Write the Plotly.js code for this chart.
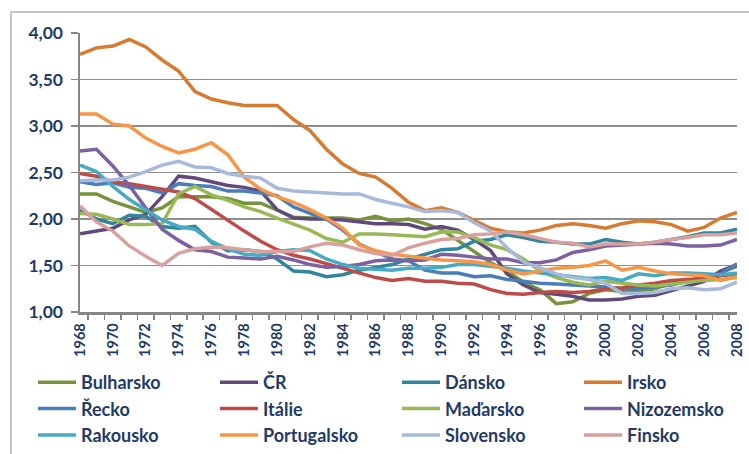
<!DOCTYPE html>
<html>
<head>
<meta charset="utf-8">
<script src="https://cdn.plot.ly/plotly-3.0.1.min.js"></script>
<style>
  html, body { margin: 0; padding: 0; background: #ffffff; }
  #frame { position: absolute; left: 10px; top: 11px; width: 800px; height: 500px; border: 2px solid #c6c6c6; }
  #chart { position: absolute; left: 0; top: 0; width: 749px; height: 454px; }
</style>
</head>
<body>
<div id="frame"></div>
<div id="chart"></div>
<script>
const years = ["1968","1969","1970","1971","1972","1973","1974","1975","1976","1977","1978","1979","1980","1981","1982","1983","1984","1985","1986","1987","1988","1989","1990","1991","1992","1993","1994","1995","1996","1997","1998","1999","2000","2001","2002","2003","2004","2005","2006","2007","2008"];

const bulharsko = [2.27,2.27,2.19,2.13,2.07,2.12,2.24,2.24,2.24,2.22,2.17,2.17,2.10,2.02,2.01,2.01,2.01,1.99,2.03,1.98,2.00,1.95,1.89,1.77,1.65,1.53,1.44,1.32,1.24,1.09,1.11,1.20,1.24,1.22,1.22,1.25,1.31,1.34,1.36,1.42,1.49];
const cr = [1.84,1.87,1.90,1.99,2.05,2.24,2.46,2.44,2.40,2.36,2.34,2.30,2.10,2.01,2.00,2.00,1.99,1.97,1.95,1.95,1.94,1.89,1.92,1.88,1.78,1.66,1.41,1.29,1.21,1.19,1.17,1.13,1.13,1.14,1.17,1.18,1.23,1.28,1.33,1.44,1.51];
const dansko = [2.10,2.00,1.95,2.04,2.03,1.92,1.90,1.92,1.75,1.66,1.67,1.65,1.57,1.44,1.43,1.38,1.40,1.45,1.48,1.51,1.57,1.62,1.67,1.68,1.76,1.78,1.83,1.80,1.76,1.75,1.73,1.73,1.78,1.75,1.73,1.75,1.78,1.81,1.85,1.85,1.89];
const irsko = [3.77,3.84,3.86,3.93,3.85,3.71,3.59,3.37,3.29,3.25,3.22,3.22,3.22,3.07,2.95,2.75,2.59,2.49,2.45,2.33,2.18,2.09,2.12,2.07,1.99,1.90,1.86,1.85,1.88,1.93,1.95,1.93,1.90,1.95,1.98,1.97,1.94,1.87,1.91,2.01,2.07];
const recko = [2.40,2.37,2.39,2.34,2.33,2.28,2.38,2.36,2.35,2.30,2.30,2.28,2.25,2.13,2.06,2.00,1.88,1.73,1.65,1.57,1.55,1.45,1.42,1.42,1.38,1.39,1.35,1.33,1.31,1.30,1.29,1.28,1.27,1.25,1.25,1.27,1.29,1.33,1.38,1.41,1.52];
const italie = [2.49,2.46,2.40,2.38,2.35,2.32,2.29,2.22,2.10,1.98,1.87,1.76,1.67,1.61,1.57,1.52,1.47,1.42,1.37,1.34,1.36,1.33,1.33,1.31,1.30,1.24,1.20,1.19,1.21,1.22,1.21,1.22,1.25,1.26,1.29,1.31,1.34,1.35,1.36,1.39,1.41];
const madarsko = [2.06,2.05,2.00,1.94,1.94,1.95,2.27,2.35,2.26,2.20,2.13,2.08,2.01,1.94,1.88,1.79,1.75,1.84,1.84,1.83,1.82,1.81,1.86,1.86,1.80,1.72,1.67,1.57,1.44,1.37,1.32,1.29,1.33,1.31,1.29,1.28,1.30,1.32,1.34,1.35,1.37];
const nizozemsko = [2.73,2.75,2.57,2.36,2.12,1.89,1.77,1.67,1.65,1.59,1.58,1.57,1.60,1.56,1.51,1.48,1.49,1.51,1.55,1.56,1.55,1.56,1.62,1.61,1.59,1.57,1.57,1.53,1.53,1.56,1.64,1.67,1.71,1.72,1.73,1.74,1.73,1.71,1.71,1.72,1.78];
const rakousko = [2.58,2.51,2.35,2.21,2.10,1.99,1.92,1.89,1.76,1.68,1.62,1.61,1.65,1.67,1.66,1.57,1.51,1.47,1.46,1.45,1.47,1.47,1.48,1.51,1.51,1.49,1.47,1.44,1.42,1.40,1.38,1.36,1.37,1.34,1.41,1.39,1.42,1.42,1.41,1.40,1.42];
const portugalsko = [3.13,3.13,3.02,3.00,2.87,2.78,2.71,2.75,2.82,2.69,2.45,2.32,2.24,2.18,2.10,2.01,1.90,1.72,1.66,1.62,1.60,1.58,1.56,1.55,1.54,1.51,1.45,1.41,1.44,1.47,1.48,1.50,1.55,1.45,1.48,1.44,1.41,1.40,1.39,1.34,1.38];
const slovensko = [2.41,2.42,2.42,2.45,2.51,2.58,2.62,2.56,2.55,2.49,2.46,2.44,2.33,2.30,2.29,2.28,2.27,2.27,2.21,2.17,2.13,2.08,2.09,2.07,1.96,1.87,1.69,1.54,1.47,1.41,1.37,1.35,1.31,1.20,1.20,1.21,1.25,1.26,1.24,1.25,1.32];
const finsko = [2.14,1.97,1.87,1.71,1.60,1.50,1.63,1.68,1.70,1.69,1.67,1.65,1.65,1.65,1.70,1.74,1.72,1.67,1.63,1.61,1.69,1.74,1.78,1.79,1.83,1.84,1.86,1.83,1.79,1.75,1.74,1.70,1.73,1.73,1.73,1.75,1.78,1.80,1.83,1.83,1.85];

const seriesNames = ["Bulharsko","ČR","Dánsko","Irsko","Řecko","Itálie","Maďarsko","Nizozemsko","Rakousko","Portugalsko","Slovensko","Finsko"];
const seriesValues = [bulharsko, cr, dansko, irsko, recko, italie, madarsko, nizozemsko, rakousko, portugalsko, slovensko, finsko];
const seriesColors = ["#77933C","#604A7B","#31859C","#D77B32","#4A7EBB","#BE4B48","#98B954","#7D60A0","#46AAC5","#F79646","#A7BADB","#D9A09E"];
const tickText = years.map((y, i) => (i % 2 === 0 ? y : ""));

// one vertical legend per legend column
const legendIds = ["legend", "legend2", "legend3", "legend4"];
const traces = seriesNames.map((name, i) => ({
  type: "scatter",
  mode: "lines",
  name: name,
  x: years,
  y: seriesValues[i],
  line: { color: seriesColors[i], width: 3.5 },
  legend: legendIds[i % 4],
  hoverinfo: "name+x+y"
}));

const navy = "#1F3B66";
const lfont = { family: "Lato, 'DejaVu Sans', sans-serif", size: 18, color: navy, weight: "bold" };
function legendAt(xc) {
  return {
    orientation: "v",
    xref: "container", yref: "container",
    x: xc / 749, xanchor: "left",
    y: 1 - 364 / 454, yanchor: "top",
    font: lfont,
    itemwidth: 38,
    bgcolor: "rgba(0,0,0,0)",
    traceorder: "normal",
    tracegroupgap: 0
  };
}

const layout = {
  width: 749, height: 454,
  margin: { l: 80, r: 12, t: 33, b: 142, autoexpand: false },
  paper_bgcolor: "rgba(0,0,0,0)",
  plot_bgcolor: "rgba(0,0,0,0)",
  separators: ", ",
  showlegend: true,
  legend: legendAt(33),
  legend2: legendAt(215),
  legend3: legendAt(397),
  legend4: legendAt(579),
  xaxis: {
    type: "category",
    tickmode: "array",
    tickvals: years,
    ticktext: tickText,
    tickson: "boundaries",
    ticks: "outside", ticklen: 5, tickwidth: 1.5, tickcolor: "#868686",
    tickangle: -90,
    ticklabelstandoff: 3,
    tickfont: { family: "Lato, 'DejaVu Sans', sans-serif", size: 14.5, color: navy, weight: "bold" },
    showline: true, linecolor: "#868686", linewidth: 2.5,
    showgrid: false, zeroline: false,
    automargin: false,
    fixedrange: true
  },
  yaxis: {
    range: [1, 4],
    dtick: 0.5, tick0: 1,
    tickformat: ".2f",
    ticks: "outside", ticklen: 7, tickwidth: 1.5, tickcolor: "#868686",
    tickfont: { family: "Lato, 'DejaVu Sans', sans-serif", size: 17.5, color: navy, weight: "bold" },
    ticklabelstandoff: 4,
    showline: true, linecolor: "#868686", linewidth: 2.5,
    showgrid: true, gridcolor: "#8f8f8f", gridwidth: 1.6,
    zeroline: false,
    automargin: false,
    fixedrange: true
  }
};

Plotly.newPlot("chart", traces, layout, { displayModeBar: false, staticPlot: true });
</script>
</body>
</html>
